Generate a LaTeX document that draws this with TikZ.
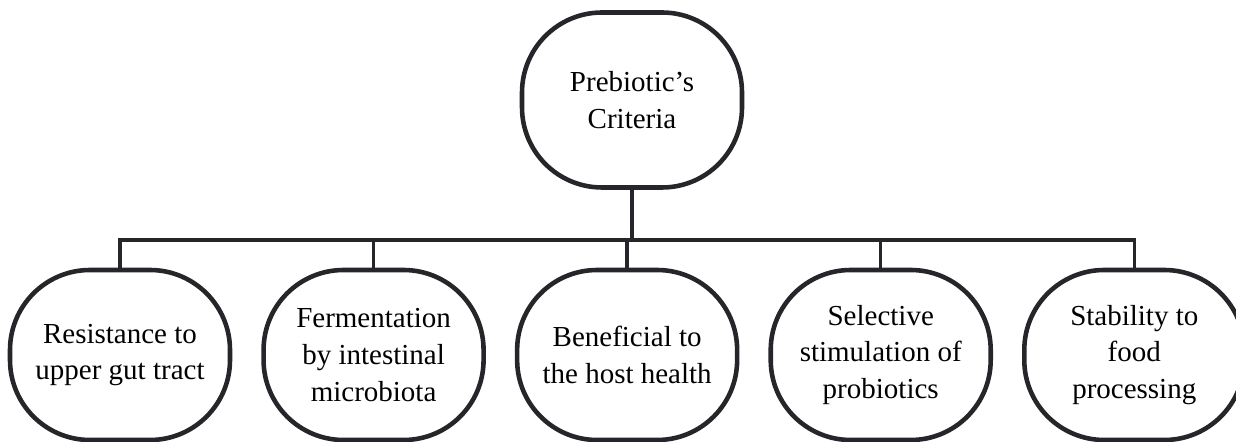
\documentclass[tikz,border=0pt]{standalone}
\usepackage{fontspec}
\setmainfont{Liberation Serif}
\usepackage{xcolor}
\usepackage{tikz}
\usetikzlibrary{positioning, calc}
\definecolor{lineDark}{RGB}{38, 38, 42}

\begin{document}
\begin{tikzpicture}[
    node distance=0.58cm,
    criterion/.style={
        rectangle,
        rounded corners=1.6cm,
        minimum width=4.4cm,
        minimum height=3.4cm,
        align=center,
        font=\fontsize{16.5}{21}\selectfont,
        draw=lineDark,
        line width=2.6pt,
        fill=white
    },
    link/.style={
        line width=2pt,
        color=lineDark
    }
]
\useasboundingbox (0,0) rectangle (24.72,8.84);

% Root
\node[criterion, minimum height=3.5cm] (root) at (12.64, 6.84) {Prebiotic’s\\Criteria};

% Criteria row
\node[criterion] (c1) at (2.4, 1.74) {Resistance to\\upper gut tract};
\node[criterion, right=of c1] (c2) {Fermentation\\by intestinal\\microbiota};
\node[criterion, right=of c2] (c3) {Beneficial to\\the host health};
\node[criterion, right=of c3] (c4) {Selective\\stimulation of\\probiotics};
\node[criterion, right=of c4] (c5) {Stability to\\food\\processing};

% Tree lines
\coordinate (bar) at (12.64, 4.04);
\draw[link] (root.south) -- (root.south |- bar);
\draw[link] (c1.north) -- (c1.north |- bar) -- (c5.north |- bar) -- (c5.north);
\foreach \n in {c2, c3, c4}
    \draw[link] (\n.north) -- (\n.north |- bar);

\end{tikzpicture}
\end{document}
